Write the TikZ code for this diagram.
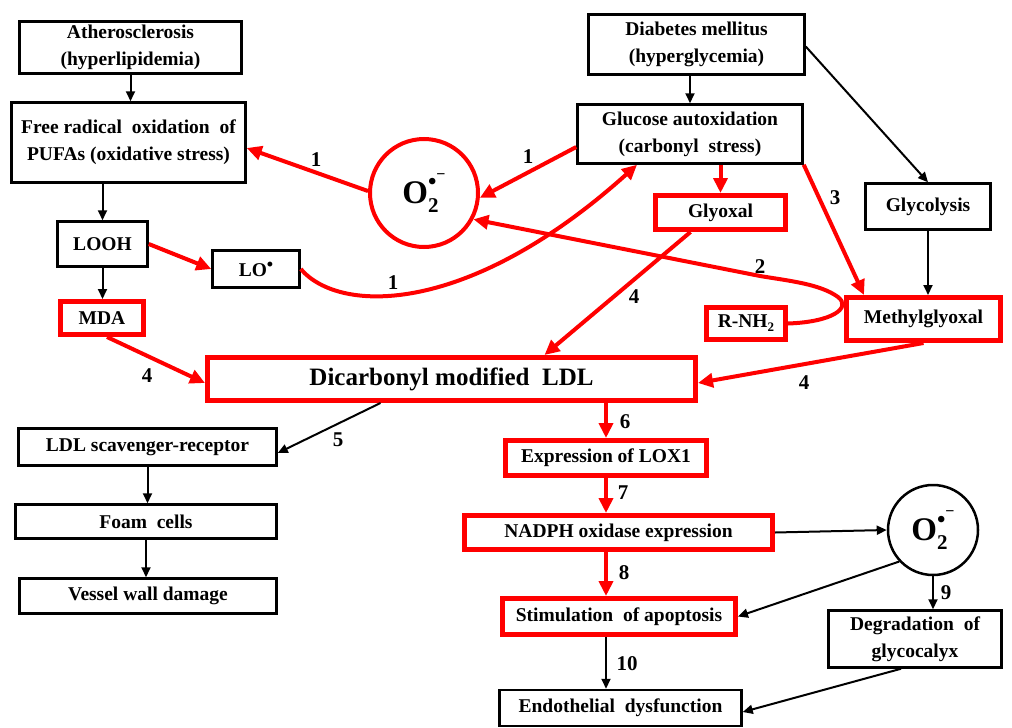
\documentclass[tikz,border=0pt]{standalone}
\usepackage{fontspec}
\setmainfont{Liberation Serif}
\usetikzlibrary{arrows.meta,calc}
\newcommand{\superox}{O\rlap{\raisebox{-0.28em}{\fontsize{21}{21}\selectfont 2}}\raisebox{0.40em}{\fontsize{24}{24}\selectfont •}\raisebox{0.72em}{\fontsize{16}{16}\selectfont −}}
\begin{document}
\begin{tikzpicture}[x=1pt,y=-1pt,
  font=\bfseries\fontsize{19.5}{27}\selectfont,
  bbox/.style={draw=black, line width=2.5pt, rectangle, inner sep=0pt, align=center},
  rbox/.style={draw=red, line width=5pt, rectangle, inner sep=0pt, align=center},
  barrow/.style={draw=black, line width=2pt, -{Triangle[length=10pt,width=9pt]}},
  rarrow/.style={draw=red, line width=4pt, -{Triangle[length=15pt,width=14pt]}},
  lab/.style={font=\bfseries\fontsize{21}{21}\selectfont, inner sep=0pt},
  bigtxt/.style={font=\bfseries\fontsize{33}{33}\selectfont},
]
\useasboundingbox (0,0) rectangle (1012,728);

% black boxes
\node[bbox, minimum width=222pt, minimum height=52pt] (ather) at (130.5,47.5) {Atherosclerosis\\(hyperlipidemia)};
\node[bbox, minimum width=234pt, minimum height=80pt] (free) at (128.5,142.5) {Free radical~ oxidation~ of\\PUFAs (oxidative stress)};
\node[bbox, minimum width=90pt, minimum height=45pt] (looh) at (102.5,244) {LOOH};
\node[bbox, minimum width=87pt, minimum height=37pt] (lo) at (256,269) {LO\raisebox{0.3em}{\fontsize{18}{18}\selectfont •}};
\node[bbox, minimum width=216pt, minimum height=60pt] (diab) at (696.5,44.5) {Diabetes mellitus\\(hyperglycemia)};
\node[bbox, minimum width=225pt, minimum height=59pt] (gluc) at (690,134) {Glucose autoxidation\\(carbonyl~ stress)};
\node[bbox, minimum width=125pt, minimum height=46pt] (glyc) at (928,206.5) {Glycolysis};
\node[bbox, minimum width=258pt, minimum height=37pt] (ldlsr) at (147.5,447) {LDL scavenger-receptor};
\node[bbox, minimum width=261pt, minimum height=34pt] (foam) at (146,521.5) {Foam~ cells};
\node[bbox, minimum width=257pt, minimum height=35pt] (vessel) at (148,596) {Vessel wall damage};
\node[bbox, minimum width=173pt, minimum height=57pt] (degr) at (915,639) {Degradation~ of\\glycocalyx};
\node[bbox, minimum width=242pt, minimum height=36pt] (endo) at (620.5,708) {Endothelial~ dysfunction};

% red boxes
\node[rbox, minimum width=83pt, minimum height=33pt] (mda) at (102,318) {MDA};
\node[rbox, minimum width=488pt, minimum height=43pt, font=\bfseries\fontsize{25}{25}\selectfont] (dicarb) at (451.5,379) {Dicarbonyl modified~ LDL};
\node[rbox, minimum width=130pt, minimum height=34pt] (glyox) at (720.5,212.5) {Glyoxal};
\node[rbox, minimum width=154pt, minimum height=43pt] (methyl) at (923.5,319) {Methylglyoxal};
\node[rbox, minimum width=79pt, minimum height=32pt] (rnh2) at (746,323.5) {R-NH\raisebox{-0.2em}{\fontsize{13}{13}\selectfont 2}};
\node[rbox, minimum width=201pt, minimum height=35pt] (lox) at (606,458) {Expression of LOX1};
\node[rbox, minimum width=308pt, minimum height=34pt] (nadph) at (618.5,532.5) {NADPH oxidase expression};
\node[rbox, minimum width=233pt, minimum height=36pt] (stim) at (619,616.5) {Stimulation~ of apoptosis};

% circles
\node[circle, draw=red, line width=4pt, minimum size=108pt, inner sep=0pt, bigtxt] (o2a) at (424,193) {\superox};
\node[circle, draw=black, line width=2.5pt, minimum size=90pt, inner sep=0pt, bigtxt] (o2b) at (933,530) {\superox};

% black arrows
\draw[barrow] (ather.south) -- (ather.south |- free.north);
\draw[barrow] (looh.north |- free.south) -- (looh.north);
\draw[barrow] (looh.south) -- (looh.south |- mda.north);
\draw[barrow] (gluc.north |- diab.south) -- (gluc.north);
\draw[barrow] ([yshift=-2pt]diab.east) -- (glyc.north);
\draw[barrow] (glyc.south) -- (glyc.south |- methyl.north);
\draw[barrow] ([xshift=-71pt]dicarb.south) -- ([yshift=-6pt]ldlsr.east);
\draw[barrow] (ldlsr.south) -- (ldlsr.south |- foam.north);
\draw[barrow] (foam.south) -- (foam.south |- vessel.north);
\draw[barrow] (nadph.east) -- (o2b.west);
\draw[barrow] (o2b.223) -- (stim.east);
\draw[barrow] (o2b.south) -- (o2b.south |- degr.north);
\draw[barrow] ([xshift=-14pt]degr.south) -- ([yshift=-4pt]endo.east);
\draw[barrow] (stim.south -| lox) -- (endo.north -| lox);

% red arrows
\draw[rarrow] (looh.east) -- (lo.west);
\draw[rarrow] ([xshift=5pt]mda.south) -- ([yshift=-4pt]dicarb.west);
\draw[rarrow] (o2a.178) -- ([yshift=-5.5pt]free.east);
\draw[rarrow] ([yshift=-13pt]gluc.west) -- (o2a.-5);
\draw[rarrow] (lo.east) .. controls (340,315) and (470,315) .. ([xshift=-53pt]gluc.south);
\draw[rarrow] (glyox.north |- gluc.south) -- (glyox.north);
\draw[rarrow] (gluc.south east) -- ([xshift=20pt]methyl.north west);
\draw[rarrow] ([xshift=-30pt]glyox.south) -- ([xshift=93pt]dicarb.north);
\draw[rarrow] (methyl.south) -- ([yshift=-4pt]dicarb.east);
\draw[rarrow] (rnh2.east) .. controls (832,322) and (852,308) .. (838,297) .. controls (820,284) and (790,281) .. (760,276) -- (o2a.-28);
\draw[rarrow] (dicarb.south -| lox) -- (lox.north);
\draw[rarrow] (lox.south) -- (nadph.north -| lox);
\draw[rarrow] (nadph.south -| lox) -- (stim.north -| lox);

% labels
\node[lab] (l1a) at (316,160) {1};
\node[lab] (l1b) at (528,157) {1};
\node[lab] (l1c) at (393,283) {1};
\node[lab] (l2) at (760,267) {2};
\node[lab] (l3) at (835,198) {3};
\node[lab] (l4a) at (634,297) {4};
\node[lab] (l4b) at (147,376) {4};
\node[lab] (l4c) at (804,383) {4};
\node[lab] (l5) at (338,440) {5};
\node[lab] (l6) at (625,422) {6};
\node[lab] (l7) at (623,493) {7};
\node[lab] (l8) at (624,573) {8};
\node[lab] (l9) at (946,593) {9};
\node[lab] (l10) at (627,664) {10};
\end{tikzpicture}
\end{document}
